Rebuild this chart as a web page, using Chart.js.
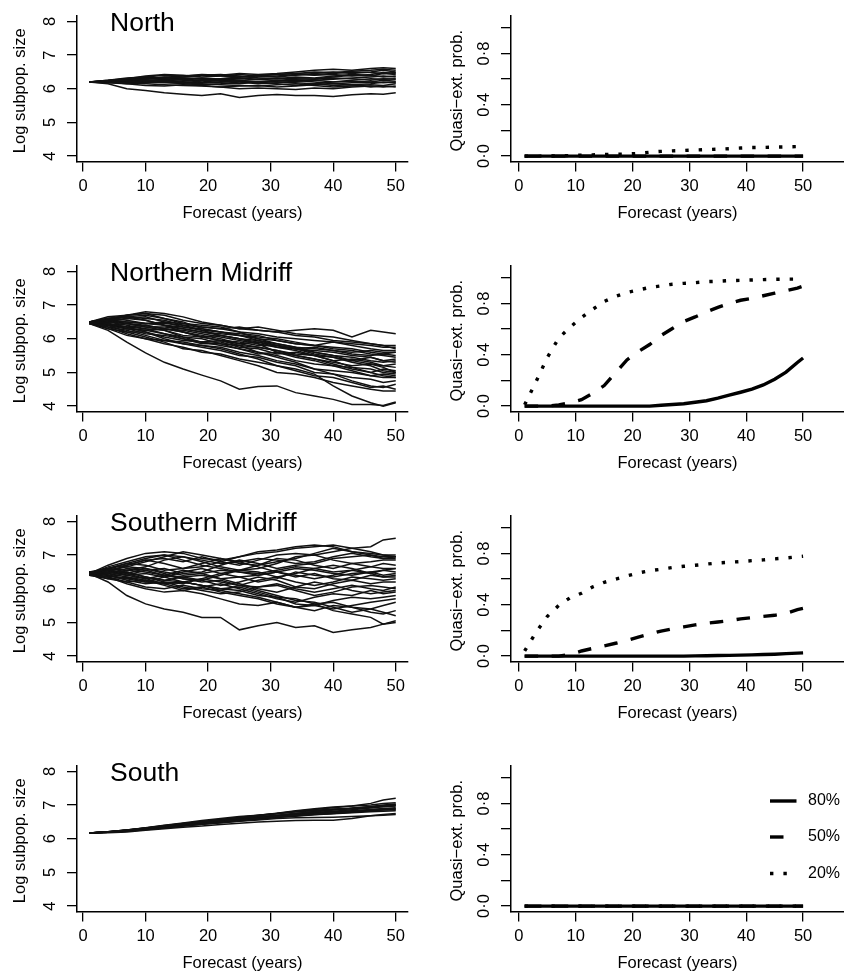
<!DOCTYPE html>
<html>
<head>
<meta charset="utf-8">
<script src="https://cdn.jsdelivr.net/npm/chart.js@4.4.1/dist/chart.umd.min.js"></script>
<style>
  html, body { margin: 0; padding: 0; background: #fff; }
  #page { position: relative; width: 844px; height: 973px; overflow: hidden; }
  #page canvas { position: absolute; }
</style>
</head>
<body>
<div id="page"></div>
<script>
const FONT = '"Liberation Sans", Arial, Helvetica, sans-serif';

const yearsTraj = [1, 4, 7, 10, 13, 16, 19, 22, 25, 28, 31, 34, 37, 40, 43, 46, 48, 50];
const yearsProb = [1, 3, 5, 7, 9, 11, 13, 15, 17, 19, 21, 23, 25, 27, 29, 31, 33, 35, 37, 39, 41, 43, 45, 47, 49, 50];
const yearsFlat = [1, 50];
const xTicks = [0, 10, 20, 30, 40, 50];

// log subpopulation size trajectories
const northTraj = [
  [6.2, 6.15, 6.0, 5.95, 5.88, 5.84, 5.8, 5.85, 5.74, 5.8, 5.83, 5.8, 5.8, 5.77, 5.82, 5.85, 5.84, 5.88],
  [6.2, 6.25, 6.3, 6.35, 6.4, 6.38, 6.42, 6.4, 6.45, 6.42, 6.45, 6.5, 6.55, 6.58, 6.55, 6.6, 6.62, 6.6],
  [6.2, 6.22, 6.25, 6.3, 6.35, 6.32, 6.28, 6.3, 6.35, 6.4, 6.42, 6.45, 6.5, 6.48, 6.52, 6.55, 6.58, 6.55],
  [6.2, 6.2, 6.18, 6.15, 6.12, 6.1, 6.08, 6.05, 6.0, 6.02, 6.0, 5.98, 6.02, 6.0, 6.05, 6.08, 6.05, 6.08],
  [6.2, 6.23, 6.28, 6.32, 6.3, 6.25, 6.2, 6.18, 6.15, 6.2, 6.25, 6.28, 6.3, 6.35, 6.4, 6.38, 6.45, 6.42],
  [6.2, 6.18, 6.2, 6.25, 6.22, 6.18, 6.15, 6.12, 6.1, 6.08, 6.12, 6.15, 6.1, 6.05, 6.08, 6.12, 6.1, 6.15],
  [6.2, 6.24, 6.3, 6.38, 6.42, 6.4, 6.35, 6.38, 6.42, 6.38, 6.35, 6.4, 6.45, 6.5, 6.45, 6.5, 6.55, 6.5],
  [6.2, 6.2, 6.22, 6.2, 6.25, 6.28, 6.25, 6.22, 6.2, 6.15, 6.18, 6.22, 6.25, 6.2, 6.25, 6.3, 6.28, 6.3],
  [6.2, 6.22, 6.2, 6.18, 6.2, 6.15, 6.12, 6.15, 6.2, 6.22, 6.2, 6.18, 6.15, 6.2, 6.22, 6.2, 6.25, 6.22],
  [6.2, 6.25, 6.32, 6.35, 6.32, 6.35, 6.4, 6.42, 6.38, 6.32, 6.3, 6.35, 6.32, 6.38, 6.42, 6.4, 6.35, 6.38],
  [6.2, 6.2, 6.15, 6.18, 6.22, 6.2, 6.18, 6.2, 6.25, 6.2, 6.15, 6.1, 6.15, 6.1, 6.12, 6.05, 6.08, 6.05],
  [6.2, 6.22, 6.25, 6.22, 6.28, 6.3, 6.32, 6.28, 6.25, 6.28, 6.32, 6.3, 6.28, 6.32, 6.3, 6.25, 6.3, 6.28],
  [6.2, 6.18, 6.15, 6.1, 6.08, 6.12, 6.1, 6.05, 6.08, 6.1, 6.05, 6.08, 6.12, 6.15, 6.18, 6.2, 6.18, 6.2],
  [6.2, 6.23, 6.27, 6.3, 6.34, 6.38, 6.4, 6.38, 6.35, 6.38, 6.42, 6.45, 6.42, 6.45, 6.5, 6.48, 6.45, 6.48],
  [6.2, 6.21, 6.24, 6.26, 6.25, 6.22, 6.25, 6.3, 6.32, 6.28, 6.25, 6.22, 6.25, 6.28, 6.32, 6.35, 6.38, 6.35],
  [6.2, 6.19, 6.17, 6.2, 6.18, 6.16, 6.2, 6.25, 6.22, 6.2, 6.22, 6.25, 6.2, 6.15, 6.12, 6.15, 6.2, 6.18],
  [6.2, 6.24, 6.28, 6.3, 6.28, 6.32, 6.3, 6.25, 6.3, 6.35, 6.38, 6.42, 6.4, 6.42, 6.38, 6.42, 6.48, 6.45]
];
const nMidTraj = [
  [6.45, 6.25, 5.9, 5.58, 5.3, 5.1, 4.92, 4.75, 4.5, 4.58, 4.6, 4.4, 4.3, 4.2, 4.05, 4.05, 4.02, 4.12],
  [6.5, 6.35, 6.15, 6.0, 5.85, 5.75, 5.6, 5.55, 5.4, 5.3, 5.2, 5.1, 4.95, 4.6, 4.3, 4.1, 4.0, 4.1],
  [6.48, 6.4, 6.2, 6.05, 5.9, 5.7, 5.65, 5.5, 5.35, 5.2, 5.0, 4.95, 4.85, 4.7, 4.6, 4.5, 4.45, 4.45],
  [6.5, 6.45, 6.35, 6.2, 6.0, 5.85, 5.8, 5.7, 5.55, 5.4, 5.2, 5.05, 4.9, 4.85, 4.7, 4.55, 4.6, 4.5],
  [6.45, 6.5, 6.4, 6.3, 6.25, 6.05, 5.9, 5.95, 5.8, 5.6, 5.45, 5.3, 5.1, 4.95, 4.75, 4.6, 4.55, 4.65],
  [6.5, 6.3, 6.1, 6.0, 5.95, 5.85, 5.75, 5.65, 5.5, 5.45, 5.3, 5.2, 5.0, 4.95, 4.85, 4.8, 4.7, 4.75],
  [6.47, 6.55, 6.6, 6.65, 6.5, 6.35, 6.25, 6.1, 6.0, 5.85, 5.6, 5.45, 5.35, 5.2, 5.05, 4.9, 4.85, 4.85],
  [6.45, 6.35, 6.25, 6.1, 5.95, 5.9, 5.8, 5.75, 5.6, 5.5, 5.35, 5.25, 5.1, 5.05, 5.0, 4.9, 4.95, 4.9],
  [6.5, 6.6, 6.7, 6.75, 6.6, 6.5, 6.3, 6.2, 6.1, 5.95, 5.8, 5.7, 5.55, 5.45, 5.3, 5.2, 5.05, 5.0],
  [6.45, 6.3, 6.2, 6.2, 6.05, 5.95, 5.9, 5.8, 5.7, 5.6, 5.5, 5.35, 5.25, 5.2, 5.15, 5.0, 5.1, 5.05],
  [6.5, 6.45, 6.35, 6.3, 6.15, 6.0, 5.85, 5.85, 5.7, 5.55, 5.6, 5.5, 5.4, 5.3, 5.2, 5.25, 5.2, 5.15],
  [6.48, 6.55, 6.5, 6.45, 6.4, 6.2, 6.1, 6.0, 5.85, 5.75, 5.65, 5.55, 5.5, 5.35, 5.4, 5.3, 5.2, 5.25],
  [6.5, 6.4, 6.3, 6.15, 6.1, 6.0, 5.9, 5.9, 5.75, 5.7, 5.55, 5.6, 5.5, 5.45, 5.35, 5.45, 5.35, 5.4],
  [6.45, 6.55, 6.65, 6.7, 6.6, 6.45, 6.4, 6.35, 6.2, 6.0, 5.85, 5.75, 5.7, 5.65, 5.55, 5.5, 5.55, 5.5],
  [6.5, 6.4, 6.35, 6.4, 6.3, 6.2, 6.05, 5.95, 5.9, 5.8, 5.8, 5.7, 5.75, 5.65, 5.6, 5.65, 5.6, 5.6],
  [6.48, 6.5, 6.6, 6.55, 6.4, 6.35, 6.3, 6.2, 6.15, 6.1, 5.95, 5.85, 5.8, 5.9, 5.8, 5.7, 5.65, 5.65],
  [6.5, 6.6, 6.55, 6.45, 6.5, 6.45, 6.35, 6.3, 6.2, 6.15, 6.05, 6.0, 5.95, 5.9, 5.85, 5.8, 5.75, 5.75],
  [6.45, 6.55, 6.7, 6.8, 6.75, 6.65, 6.5, 6.4, 6.3, 6.25, 6.2, 6.1, 6.05, 5.95, 5.9, 5.85, 5.8, 5.8],
  [6.5, 6.55, 6.5, 6.45, 6.45, 6.4, 6.35, 6.3, 6.35, 6.25, 6.2, 6.25, 6.3, 6.25, 6.05, 6.25, 6.2, 6.15],
  [6.5, 6.65, 6.7, 6.75, 6.7, 6.55, 6.45, 6.4, 6.3, 6.35, 6.25, 6.15, 6.1, 6.05, 5.95, 5.85, 5.8, 5.7],
  [6.47, 6.4, 6.45, 6.35, 6.25, 6.1, 6.05, 5.95, 5.85, 5.9, 5.8, 5.7, 5.65, 5.6, 5.5, 5.45, 5.35, 5.3],
  [6.5, 6.45, 6.3, 6.25, 6.3, 6.2, 6.05, 6.1, 6.0, 5.9, 5.75, 5.65, 5.5, 5.35, 5.15, 5.1, 5.0, 4.95],
  [6.5, 6.5, 6.45, 6.4, 6.3, 6.25, 6.15, 6.05, 5.95, 5.85, 5.75, 5.7, 5.6, 5.5, 5.45, 5.35, 5.3, 5.35],
  [6.45, 6.6, 6.65, 6.6, 6.55, 6.4, 6.25, 6.2, 6.1, 6.05, 6.0, 5.9, 5.8, 5.75, 5.7, 5.6, 5.55, 5.6],
  [6.5, 6.4, 6.3, 6.25, 6.15, 6.05, 6.0, 5.85, 5.8, 5.75, 5.65, 5.5, 5.4, 5.25, 5.1, 5.0, 4.9, 4.85],
  [6.48, 6.55, 6.45, 6.35, 6.35, 6.3, 6.2, 6.15, 6.1, 6.0, 5.95, 5.85, 5.8, 5.7, 5.65, 5.55, 5.5, 5.45],
  [6.5, 6.6, 6.65, 6.55, 6.4, 6.3, 6.2, 6.1, 6.0, 5.95, 5.85, 5.75, 5.6, 5.5, 5.35, 5.25, 5.15, 5.0]
];
const sMidTraj = [
  [6.45, 6.2, 5.8, 5.55, 5.4, 5.3, 5.15, 5.15, 4.78, 4.9, 5.0, 4.85, 4.9, 4.7, 4.78, 4.85, 4.95, 5.05],
  [6.45, 6.6, 6.7, 6.85, 6.9, 6.8, 6.95, 6.8, 6.7, 6.85, 7.0, 7.05, 7.0, 7.1, 7.2, 7.25, 7.45, 7.5],
  [6.45, 6.7, 6.9, 7.05, 7.1, 7.05, 6.9, 6.85, 6.95, 7.1, 7.15, 7.25, 7.3, 7.25, 7.1, 7.05, 7.0, 7.0],
  [6.4, 6.55, 6.65, 6.8, 6.95, 7.1, 7.0, 6.9, 6.75, 6.7, 6.8, 6.9, 7.05, 7.2, 7.1, 7.0, 6.95, 6.95],
  [6.45, 6.5, 6.4, 6.55, 6.6, 6.45, 6.5, 6.7, 6.85, 6.75, 6.6, 6.7, 6.75, 6.9, 6.95, 7.0, 6.9, 6.9],
  [6.5, 6.4, 6.3, 6.2, 6.35, 6.5, 6.6, 6.45, 6.55, 6.7, 6.9, 6.85, 6.7, 6.6, 6.75, 6.8, 6.85, 6.85],
  [6.45, 6.65, 6.8, 6.95, 7.0, 6.85, 6.7, 6.6, 6.5, 6.45, 6.55, 6.65, 6.6, 6.5, 6.55, 6.65, 6.75, 6.7],
  [6.4, 6.35, 6.45, 6.6, 6.45, 6.3, 6.25, 6.4, 6.55, 6.5, 6.35, 6.45, 6.6, 6.7, 6.6, 6.45, 6.55, 6.5],
  [6.45, 6.55, 6.5, 6.35, 6.2, 6.15, 6.3, 6.45, 6.35, 6.2, 6.3, 6.5, 6.4, 6.35, 6.45, 6.5, 6.4, 6.45],
  [6.5, 6.6, 6.75, 6.7, 6.55, 6.6, 6.75, 6.9, 6.8, 6.65, 6.5, 6.35, 6.45, 6.3, 6.25, 6.4, 6.35, 6.35],
  [6.45, 6.3, 6.2, 6.05, 6.0, 6.1, 6.0, 5.95, 6.1, 6.25, 6.35, 6.2, 6.1, 6.2, 6.35, 6.3, 6.25, 6.3],
  [6.45, 6.4, 6.25, 6.15, 6.2, 6.05, 5.95, 5.85, 5.9, 6.05, 6.1, 5.95, 5.8, 5.9, 6.05, 6.1, 6.05, 6.0],
  [6.5, 6.55, 6.45, 6.3, 6.4, 6.55, 6.45, 6.3, 6.15, 6.0, 5.9, 6.05, 6.2, 6.1, 5.95, 5.85, 5.9, 5.95],
  [6.4, 6.3, 6.35, 6.25, 6.1, 5.95, 6.05, 6.15, 6.0, 5.85, 5.7, 5.6, 5.75, 5.85, 5.8, 5.95, 5.85, 5.9],
  [6.45, 6.35, 6.15, 6.0, 5.9, 5.95, 5.85, 5.7, 5.55, 5.5, 5.6, 5.45, 5.5, 5.65, 5.75, 5.7, 5.75, 5.8],
  [6.45, 6.5, 6.4, 6.45, 6.35, 6.2, 6.1, 6.0, 6.05, 5.9, 5.75, 5.55, 5.5, 5.4, 5.5, 5.6, 5.65, 5.7],
  [6.5, 6.45, 6.6, 6.55, 6.4, 6.3, 6.2, 6.25, 6.1, 5.95, 5.8, 5.65, 5.6, 5.45, 5.3, 5.4, 5.5, 5.6],
  [6.45, 6.35, 6.2, 6.25, 6.15, 6.0, 6.05, 5.9, 5.8, 5.7, 5.55, 5.45, 5.35, 5.5, 5.45, 5.3, 5.25, 5.35],
  [6.45, 6.55, 6.4, 6.3, 6.15, 6.2, 6.1, 5.95, 5.85, 5.75, 5.6, 5.45, 5.55, 5.35, 5.25, 5.15, 4.95, 5.0],
  [6.45, 6.6, 6.55, 6.65, 6.85, 6.95, 6.8, 6.65, 6.55, 6.6, 6.75, 6.95, 7.0, 6.85, 6.75, 6.65, 6.6, 6.6],
  [6.5, 6.4, 6.5, 6.35, 6.25, 6.35, 6.25, 6.1, 6.2, 6.35, 6.25, 6.05, 6.0, 6.15, 6.25, 6.15, 6.2, 6.2],
  [6.45, 6.5, 6.7, 6.85, 6.75, 6.6, 6.65, 6.8, 6.95, 7.05, 7.1, 7.2, 7.25, 7.3, 7.2, 7.1, 7.0, 6.95],
  [6.45, 6.55, 6.65, 6.6, 6.5, 6.4, 6.45, 6.55, 6.5, 6.4, 6.5, 6.6, 6.55, 6.45, 6.4, 6.5, 6.55, 6.6],
  [6.5, 6.4, 6.3, 6.35, 6.25, 6.2, 6.3, 6.2, 6.1, 6.05, 6.15, 6.0, 5.9, 6.0, 6.1, 6.0, 5.95, 6.05],
  [6.45, 6.6, 6.75, 6.9, 7.0, 6.95, 6.85, 6.75, 6.8, 6.9, 6.85, 6.75, 6.8, 6.95, 7.05, 6.95, 6.9, 6.95],
  [6.4, 6.45, 6.35, 6.2, 6.15, 6.2, 6.1, 6.0, 5.95, 5.8, 5.75, 5.7, 5.55, 5.6, 5.45, 5.4, 5.3, 5.2],
  [6.5, 6.45, 6.55, 6.5, 6.4, 6.35, 6.4, 6.3, 6.35, 6.4, 6.5, 6.4, 6.3, 6.4, 6.55, 6.45, 6.35, 6.4]
];
const southTraj = [
  [6.17, 6.21, 6.26, 6.33, 6.4, 6.47, 6.54, 6.6, 6.66, 6.7, 6.75, 6.82, 6.87, 6.92, 6.97, 7.05, 7.15, 7.2],
  [6.17, 6.18, 6.2, 6.25, 6.3, 6.34, 6.38, 6.42, 6.46, 6.5, 6.52, 6.54, 6.55, 6.55, 6.6, 6.68, 6.72, 6.75],
  [6.17, 6.19, 6.22, 6.27, 6.32, 6.38, 6.43, 6.47, 6.52, 6.56, 6.6, 6.62, 6.63, 6.64, 6.66, 6.68, 6.7, 6.72],
  [6.17, 6.2, 6.25, 6.31, 6.37, 6.44, 6.5, 6.56, 6.62, 6.68, 6.74, 6.8, 6.84, 6.88, 6.9, 6.94, 6.98, 7.0],
  [6.17, 6.2, 6.23, 6.28, 6.34, 6.4, 6.46, 6.51, 6.56, 6.61, 6.66, 6.7, 6.74, 6.78, 6.82, 6.86, 6.88, 6.9],
  [6.17, 6.21, 6.25, 6.3, 6.36, 6.43, 6.49, 6.54, 6.6, 6.65, 6.7, 6.76, 6.8, 6.85, 6.9, 6.95, 6.97, 7.02],
  [6.17, 6.19, 6.23, 6.29, 6.35, 6.41, 6.46, 6.52, 6.57, 6.61, 6.65, 6.69, 6.73, 6.76, 6.8, 6.83, 6.85, 6.86],
  [6.17, 6.2, 6.24, 6.3, 6.36, 6.42, 6.48, 6.53, 6.58, 6.63, 6.68, 6.73, 6.78, 6.82, 6.86, 6.91, 6.95, 6.97],
  [6.17, 6.21, 6.26, 6.32, 6.38, 6.43, 6.48, 6.53, 6.59, 6.64, 6.69, 6.75, 6.81, 6.86, 6.9, 6.93, 6.96, 6.98],
  [6.17, 6.19, 6.22, 6.28, 6.33, 6.39, 6.44, 6.5, 6.55, 6.6, 6.64, 6.68, 6.72, 6.75, 6.79, 6.83, 6.86, 6.88],
  [6.17, 6.2, 6.25, 6.31, 6.38, 6.45, 6.51, 6.57, 6.63, 6.69, 6.75, 6.8, 6.84, 6.87, 6.91, 6.96, 7.0, 7.03],
  [6.17, 6.2, 6.24, 6.29, 6.35, 6.41, 6.47, 6.52, 6.57, 6.62, 6.67, 6.71, 6.76, 6.8, 6.83, 6.87, 6.9, 6.92],
  [6.17, 6.19, 6.23, 6.28, 6.33, 6.38, 6.43, 6.48, 6.53, 6.58, 6.63, 6.67, 6.71, 6.74, 6.77, 6.8, 6.82, 6.83],
  [6.17, 6.21, 6.26, 6.32, 6.39, 6.45, 6.51, 6.57, 6.64, 6.7, 6.76, 6.83, 6.89, 6.94, 6.97, 7.0, 7.05, 7.07]
];

// quasi-extinction probabilities (thresholds 80%, 50%, 20%)
const northP80 = [0, 0];
const northP50 = [0, 0];
const northP20 = [0, 0, 0.001, 0.002, 0.004, 0.007, 0.01, 0.012, 0.014, 0.016, 0.021, 0.03, 0.037, 0.041, 0.044, 0.048, 0.051, 0.054, 0.058, 0.063, 0.067, 0.068, 0.07, 0.072, 0.074, 0.075];
const nMidP80 = [0, 0, 0, 0, 0, 0, 0, 0, 0, 0, 0, 0, 0.007, 0.012, 0.018, 0.03, 0.042, 0.062, 0.085, 0.108, 0.133, 0.165, 0.21, 0.265, 0.34, 0.375];
const nMidP50 = [0, 0, 0, 0.01, 0.025, 0.05, 0.1, 0.16, 0.26, 0.36, 0.425, 0.48, 0.55, 0.605, 0.66, 0.695, 0.735, 0.77, 0.8, 0.825, 0.84, 0.86, 0.88, 0.9, 0.92, 0.935];
const nMidP20 = [0.01, 0.19, 0.38, 0.53, 0.615, 0.69, 0.755, 0.815, 0.855, 0.885, 0.905, 0.925, 0.937, 0.95, 0.957, 0.962, 0.97, 0.973, 0.978, 0.98, 0.983, 0.986, 0.988, 0.99, 0.99, 0.99];
const sMidP80 = [0, 0, 0, 0, 0, 0, 0, 0, 0, 0, 0, 0, 0, 0, 0, 0.002, 0.003, 0.005, 0.006, 0.008, 0.01, 0.012, 0.015, 0.019, 0.023, 0.025];
const sMidP50 = [0, 0, 0, 0, 0.012, 0.04, 0.06, 0.08, 0.1, 0.122, 0.148, 0.172, 0.195, 0.213, 0.228, 0.243, 0.256, 0.266, 0.276, 0.29, 0.3, 0.31, 0.318, 0.333, 0.362, 0.372];
const sMidP20 = [0.04, 0.185, 0.31, 0.395, 0.455, 0.49, 0.54, 0.575, 0.6, 0.625, 0.648, 0.665, 0.677, 0.69, 0.7, 0.708, 0.717, 0.726, 0.731, 0.737, 0.744, 0.75, 0.758, 0.765, 0.774, 0.778];
const southP80 = [0, 0];
const southP50 = [0, 0];
const southP20 = [0, 0];

const probLabels = ['80%', '50%', '20%'];
const probDash = [[], [13.5, 13.5], [3.4, 10]];

const ROW_H = 250;
const PLOT_TOP = 16;
const PLOT_BOTTOM = 161.5;

const pts = (xs, ys) => ys.map((y, i) => ({x: xs[i], y}));

// R-style bits the axes don't do: rotated y labels, titles, legend
const rAxes = {
  id: 'rAxes',
  afterDraw(chart, args, o) {
    const {ctx, chartArea: a} = chart;
    const y = chart.scales.y;
    ctx.save();
    ctx.fillStyle = '#000';
    ctx.textAlign = 'center';
    ctx.textBaseline = 'middle';
    ctx.font = '16.5px ' + FONT;
    o.yLabels.forEach(([v, t]) => {
      ctx.save();
      ctx.translate(a.left - 26.5, y.getPixelForValue(v));
      ctx.rotate(-Math.PI / 2);
      ctx.fillText(t, 0, 0);
      ctx.restore();
    });
    ctx.save();
    ctx.translate(a.left - o.yTitleGap, (a.top + a.bottom) / 2 + 2);
    ctx.rotate(-Math.PI / 2);
    ctx.fillText(o.yTitle, 0, 0);
    ctx.restore();
    ctx.fillText('Forecast (years)', (a.left + a.right) / 2, 213.5);
    if (o.title) {
      ctx.font = '26.5px ' + FONT;
      ctx.textAlign = 'left';
      ctx.fillText(o.title, 110, 23.5);
    }
    if (o.legend) {
      ctx.font = '16px ' + FONT;
      ctx.textAlign = 'left';
      chart.data.datasets.forEach((ds, i) => {
        const ly = o.legend.y[i];
        ctx.save();
        ctx.strokeStyle = ds.borderColor;
        ctx.lineWidth = ds.borderWidth;
        ctx.setLineDash(ds.borderDash);
        ctx.beginPath();
        ctx.moveTo(o.legend.x0, ly);
        ctx.lineTo(o.legend.x1, ly);
        ctx.stroke();
        ctx.restore();
        ctx.fillText(ds.label, o.legend.tx, ly);
      });
    }
    ctx.restore();
  }
};

function addCanvas(left, top, w) {
  const c = document.createElement('canvas');
  c.width = w;
  c.height = ROW_H;
  c.style.left = left + 'px';
  c.style.top = top + 'px';
  document.getElementById('page').appendChild(c);
  return c;
}

function makeChart(canvas, datasets, cfg) {
  return new Chart(canvas, {
    type: 'line',
    data: {datasets},
    options: {
      responsive: false,
      animation: false,
      events: [],
      layout: {padding: {top: PLOT_TOP, right: cfg.padRight, left: 0, bottom: 0}},
      elements: {point: {radius: 0}, line: {tension: 0}},
      plugins: {legend: {display: false}, tooltip: {enabled: false}, rAxes: cfg.axes},
      scales: {
        x: {
          type: 'linear', min: cfg.xMin, max: cfg.xMax,
          afterFit: s => { s.height = ROW_H - PLOT_BOTTOM; },
          afterBuildTicks: s => { s.ticks = xTicks.map(v => ({value: v})); },
          grid: {drawOnChartArea: false, drawTicks: true, tickLength: 10, color: '#000', lineWidth: 1.3},
          border: {display: true, color: '#000', width: 1.5},
          ticks: {color: '#000', font: {family: FONT, size: 16.5}, padding: 5.5, maxRotation: 0, autoSkip: false,
                  callback: v => String(v)}
        },
        y: {
          type: 'linear', min: cfg.yMin, max: cfg.yMax,
          afterFit: s => { s.width = cfg.axisX; },
          afterBuildTicks: s => { s.ticks = cfg.yTicks.map(v => ({value: v})); },
          grid: {drawOnChartArea: false, drawTicks: true, tickLength: 10, color: '#000', lineWidth: 1.3},
          border: {display: true, color: '#000', width: 1.5},
          ticks: {display: false, autoSkip: false}
        }
      }
    },
    plugins: [rAxes]
  });
}

const rows = [
  {title: 'North', traj: northTraj,
   probs: [[yearsFlat, northP80], [yearsFlat, northP50], [yearsProb, northP20]]},
  {title: 'Northern Midriff', traj: nMidTraj,
   probs: [[yearsProb, nMidP80], [yearsProb, nMidP50], [yearsProb, nMidP20]]},
  {title: 'Southern Midriff', traj: sMidTraj,
   probs: [[yearsProb, sMidP80], [yearsProb, sMidP50], [yearsProb, sMidP20]]},
  {title: 'South', traj: southTraj,
   probs: [[yearsFlat, southP80], [yearsFlat, southP50], [yearsFlat, southP20]], legend: true}
];

rows.forEach((row, r) => {
  const top = r * ROW_H;

  const trajSets = row.traj.map(vals => ({
    data: pts(yearsTraj, vals), borderColor: '#111', borderWidth: 1.5
  }));
  makeChart(addCanvas(0, top, 422), trajSets, {
    axisX: 77, padRight: 14, xMin: -0.96, xMax: 51.96,
    yMin: 3.84, yMax: 8.16, yTicks: [4, 5, 6, 7, 8],
    axes: {title: row.title, yTitle: 'Log subpop. size', yTitleGap: 56.5,
           yLabels: [[4, '4'], [5, '5'], [6, '6'], [7, '7'], [8, '8']]}
  });

  const probSets = row.probs.map(([xs, ys], i) => ({
    label: probLabels[i], data: pts(xs, ys), borderColor: '#000', borderWidth: 3.4,
    borderDash: probDash[i], borderCapStyle: 'butt'
  }));
  makeChart(addCanvas(422, top, 422), probSets, {
    axisX: 89, padRight: 0, xMin: -1.4, xMax: 57.2,
    yMin: -0.042, yMax: 1.092, yTicks: [0, 0.2, 0.4, 0.6, 0.8, 1.0],
    axes: {yTitle: 'Quasi\u2212ext. prob.', yTitleGap: 53.5,
           yLabels: [[0, '0\u00b70'], [0.4, '0\u00b74'], [0.8, '0\u00b78']],
           legend: row.legend ? {x0: 348, x1: 374.5, tx: 386, y: [51, 87, 123.5]} : null}
  });
});
</script>
</body>
</html>
